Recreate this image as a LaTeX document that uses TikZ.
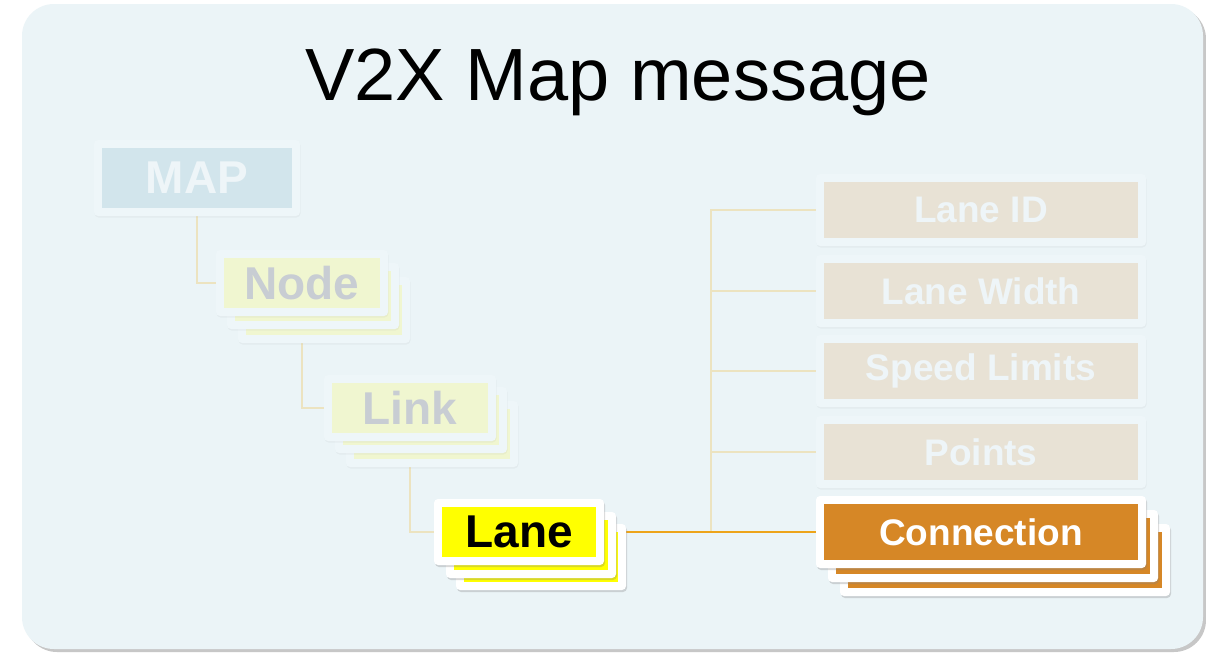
\documentclass[tikz,border=0pt]{standalone}
\usepackage{fontspec}
\setmainfont{Liberation Sans}
\usetikzlibrary{shadows,calc}
\definecolor{bgpanel}{HTML}{EBF4F7}
\definecolor{fadeframecol}{HTML}{EEF6F9}
\definecolor{mapfill}{HTML}{D2E5EC}
\definecolor{greenfill}{HTML}{F0F6D0}
\definecolor{beigefill}{HTML}{E8E2D5}
\definecolor{fadetext}{HTML}{EEF5F8}
\definecolor{graytext}{HTML}{C8CDD3}
\definecolor{lanefill}{HTML}{FFFF00}
\definecolor{connfill}{HTML}{D68726}
\definecolor{treecol}{HTML}{ECE3C0}
\definecolor{orangecol}{HTML}{EDA41A}
\pgfdeclarelayer{back}
\pgfsetlayers{back,main}
\newcommand{\mkbox}[8]{%
  \path[#6] ({#2-#4/2-8},{#3-#5/2-8}) rectangle ({#2+#4/2+8},{#3+#5/2+8});
  \node[#7, minimum width=#4, minimum height=#5] (#1) at (#2,#3) {#8};
}
\tikzset{
  fadeframe/.style={fill=fadeframecol, rounded corners=4pt,
    drop shadow={shadow xshift=0.5pt, shadow yshift=-1.5pt, opacity=0.07}},
  brightframe/.style={fill=white, rounded corners=4pt,
    drop shadow={shadow xshift=1pt, shadow yshift=-2pt, opacity=0.3}},
  innerbox/.style={inner sep=0pt, outer sep=0pt, font=\bfseries},
  mapbox/.style={innerbox, fill=mapfill, text=fadetext, font=\fontsize{46}{46}\selectfont\bfseries},
  greenbox/.style={innerbox, fill=greenfill, text=graytext, font=\fontsize{46}{46}\selectfont\bfseries},
  lanebox/.style={innerbox, fill=lanefill, text=black, font=\fontsize{46}{46}\selectfont\bfseries},
  beigebox/.style={innerbox, fill=beigefill, text=fadetext, font=\fontsize{37}{37}\selectfont\bfseries},
  connbox/.style={innerbox, fill=connfill, text=white, font=\fontsize{37}{37}\selectfont\bfseries},
  treeline/.style={draw=treecol, line width=2.2pt},
  orangeline/.style={draw=orangecol, line width=2.8pt},
}
\begin{document}
\begin{tikzpicture}[x=1pt,y=-1pt]
\useasboundingbox (0,0) rectangle (1206,653);
\begin{pgfonlayer}{back}
  \fill[white] (0,0) rectangle (1206,653);
  \fill[black!22, rounded corners=32pt] (25,7) rectangle (1206,652);
  \fill[bgpanel, rounded corners=32pt] (22,4) rectangle (1203,649);
\end{pgfonlayer}

\node[anchor=base, font=\fontsize{74}{74}\selectfont] (title) at (618,100) {V2X Map message};

% MAP
\mkbox{map}{197}{178}{190}{60}{fadeframe}{mapbox}{MAP}
% Node stack
\mkbox{nodec}{324}{310}{156}{50}{fadeframe}{greenbox}{}
\mkbox{nodeb}{313}{296}{156}{50}{fadeframe}{greenbox}{}
\mkbox{nodebox}{302}{283}{156}{50}{fadeframe}{greenbox}{Node}
% Link stack
\mkbox{linkc}{432}{434}{156}{50}{fadeframe}{greenbox}{}
\mkbox{linkb}{421}{420}{156}{50}{fadeframe}{greenbox}{}
\mkbox{link}{410}{408}{156}{50}{fadeframe}{greenbox}{Link}
% Lane stack
\mkbox{lanec}{541}{557}{154}{50}{brightframe}{lanebox}{}
\mkbox{laneb}{531}{545}{154}{50}{brightframe}{lanebox}{}
\mkbox{lane}{519}{532}{154}{50}{brightframe}{lanebox}{Lane}
% Right column
\mkbox{laneid}{981}{210}{314}{56}{fadeframe}{beigebox}{Lane ID}
\mkbox{lanewidth}{981}{291}{314}{56}{fadeframe}{beigebox}{Lane Width}
\mkbox{speed}{981}{371}{314}{56}{fadeframe}{beigebox}{Speed Limits}
\mkbox{points}{981}{452}{314}{56}{fadeframe}{beigebox}{Points}
\mkbox{connc}{1005}{560}{314}{56}{brightframe}{connbox}{}
\mkbox{connb}{993}{546}{314}{56}{brightframe}{connbox}{}
\mkbox{conn}{981}{532}{314}{56}{brightframe}{connbox}{Connection}

\coordinate (trunk) at (711,0);
\begin{pgfonlayer}{back}
  \draw[treeline] (map.south) |- (nodebox.west);
  \draw[treeline] (nodebox.south) |- (link.west);
  \draw[treeline] (link.south) |- (lane.west);
  \draw[treeline] (laneid.west) -- (laneid.west -| trunk) -- (conn.west -| trunk);
  \draw[treeline] (lanewidth.west) -- (lanewidth.west -| trunk);
  \draw[treeline] (speed.west) -- (speed.west -| trunk);
  \draw[treeline] (points.west) -- (points.west -| trunk);
  \draw[orangeline] (lane.east) -- (conn.west);
\end{pgfonlayer}
\end{tikzpicture}
\end{document}
